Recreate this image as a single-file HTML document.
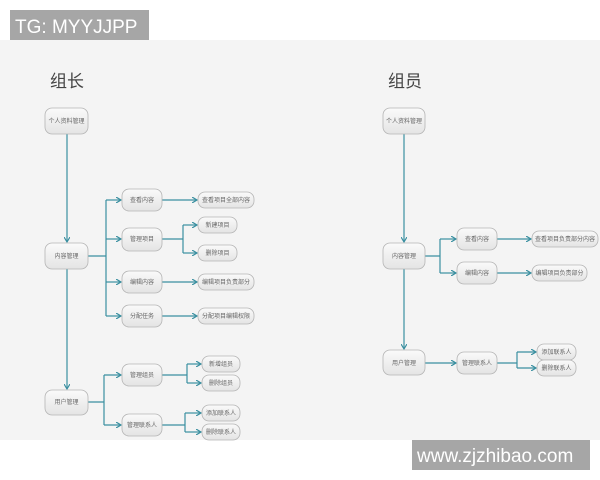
<!DOCTYPE html>
<html><head><meta charset="utf-8"><style>
html,body{margin:0;padding:0;width:600px;height:480px;overflow:hidden;background:#fff;}
svg{display:block}
text{font-family:"Liberation Sans","Noto Sans CJK SC",sans-serif;}
</style></head><body>
<svg width="600" height="480" viewBox="0 0 600 480" xmlns="http://www.w3.org/2000/svg">
<defs>
<linearGradient id="g" x1="0" y1="0" x2="0" y2="1"><stop offset="0" stop-color="#fafafa"/><stop offset="1" stop-color="#e4e4e4"/></linearGradient>
<marker id="a" markerWidth="6" markerHeight="6" refX="5" refY="3" orient="auto" markerUnits="userSpaceOnUse"><path d="M0,0 L5,3 L0,6" fill="none" stroke="#3a8fa0" stroke-width="1.2"/></marker>
</defs>
<rect x="0" y="40" width="600" height="400" fill="#f4f4f4"/>
<rect x="10" y="10" width="139" height="30" fill="#a6a6a6"/>
<text x="15" y="33" font-size="19" fill="#fff">TG: MYYJJPP</text>
<rect x="412" y="440" width="178" height="30" fill="#a6a6a6"/>
<text x="417" y="462" font-size="19" fill="#fff">www.zjzhibao.com</text>
<text x="50" y="87" font-size="17" fill="#444">组长</text>
<text x="388" y="87" font-size="17" fill="#444">组员</text>
<g fill="none" stroke="#3a8fa0" stroke-width="1.2">
<!-- left -->
<path d="M67,134 V242" marker-end="url(#a)"/>
<path d="M67,269 V389" marker-end="url(#a)"/>
<path d="M88,256 H106 M106,200 V316"/>
<path d="M106,200 H121" marker-end="url(#a)"/>
<path d="M106,239 H121" marker-end="url(#a)"/>
<path d="M106,282 H121" marker-end="url(#a)"/>
<path d="M106,316 H121" marker-end="url(#a)"/>
<path d="M162,200 H197" marker-end="url(#a)"/>
<path d="M162,239 H183 M183,225 V253"/>
<path d="M183,225 H197" marker-end="url(#a)"/>
<path d="M183,253 H197" marker-end="url(#a)"/>
<path d="M162,282 H197" marker-end="url(#a)"/>
<path d="M162,316 H197" marker-end="url(#a)"/>
<path d="M88,402 H104 M104,375 V425"/>
<path d="M104,375 H121" marker-end="url(#a)"/>
<path d="M104,425 H121" marker-end="url(#a)"/>
<path d="M162,375 H187 M187,364 V383"/>
<path d="M187,364 H201" marker-end="url(#a)"/>
<path d="M187,383 H201" marker-end="url(#a)"/>
<path d="M162,425 H185 M185,413 V432"/>
<path d="M185,413 H201" marker-end="url(#a)"/>
<path d="M185,432 H201" marker-end="url(#a)"/>
<!-- right -->
<path d="M404,134 V242" marker-end="url(#a)"/>
<path d="M404,269 V349" marker-end="url(#a)"/>
<path d="M425,256 H440 M440,239 V273"/>
<path d="M440,239 H456" marker-end="url(#a)"/>
<path d="M440,273 H456" marker-end="url(#a)"/>
<path d="M497,239 H531" marker-end="url(#a)"/>
<path d="M497,273 H531" marker-end="url(#a)"/>
<path d="M425,363 H456" marker-end="url(#a)"/>
<path d="M497,363 H517 M517,352 V368"/>
<path d="M517,352 H536" marker-end="url(#a)"/>
<path d="M517,368 H536" marker-end="url(#a)"/>
</g>
<g stroke="#b5b5b5" stroke-width="0.8" fill="url(#g)">
<rect x="45" y="108" width="43" height="26" rx="7"/>
<rect x="45" y="243" width="43" height="26" rx="7"/>
<rect x="45" y="390" width="43" height="25" rx="7"/>
<rect x="122" y="189" width="40" height="22" rx="7"/>
<rect x="122" y="228" width="40" height="23" rx="7"/>
<rect x="122" y="271" width="40" height="22" rx="7"/>
<rect x="122" y="305" width="40" height="22" rx="7"/>
<rect x="198" y="192" width="56" height="16" rx="7"/>
<rect x="198" y="217" width="39" height="16" rx="7"/>
<rect x="198" y="245" width="39" height="16" rx="7"/>
<rect x="198" y="274" width="56" height="16" rx="7"/>
<rect x="198" y="308" width="56" height="16" rx="7"/>
<rect x="122" y="364" width="40" height="22" rx="7"/>
<rect x="122" y="414" width="40" height="22" rx="7"/>
<rect x="202" y="356" width="38" height="16" rx="7"/>
<rect x="202" y="375" width="38" height="16" rx="7"/>
<rect x="202" y="405" width="38" height="16" rx="7"/>
<rect x="202" y="424" width="38" height="16" rx="7"/>
<rect x="383" y="108" width="42" height="26" rx="7"/>
<rect x="383" y="243" width="42" height="26" rx="7"/>
<rect x="383" y="350" width="42" height="25" rx="7"/>
<rect x="457" y="228" width="40" height="22" rx="7"/>
<rect x="457" y="262" width="40" height="22" rx="7"/>
<rect x="532" y="231" width="66" height="16" rx="7"/>
<rect x="532" y="265" width="55" height="16" rx="7"/>
<rect x="457" y="352" width="40" height="22" rx="7"/>
<rect x="537" y="344" width="39" height="16" rx="7"/>
<rect x="537" y="360" width="39" height="16" rx="7"/>
</g>
<g font-size="6" fill="#666" text-anchor="middle">
<text x="66.5" y="123">个人资料管理</text>
<text x="66.5" y="258">内容管理</text>
<text x="66.5" y="404">用户管理</text>
<text x="142" y="202">查看内容</text>
<text x="142" y="241">管理项目</text>
<text x="142" y="284">编辑内容</text>
<text x="142" y="318">分配任务</text>
<text x="226" y="202">查看项目全部内容</text>
<text x="217.5" y="227">新建项目</text>
<text x="217.5" y="255">删除项目</text>
<text x="226" y="284">编辑项目负责部分</text>
<text x="226" y="318">分配项目编辑权限</text>
<text x="142" y="377">管理组员</text>
<text x="142" y="427">管理联系人</text>
<text x="221" y="366">新增组员</text>
<text x="221" y="385">删除组员</text>
<text x="221" y="415">添加联系人</text>
<text x="221" y="434">删除联系人</text>
<text x="404" y="123">个人资料管理</text>
<text x="404" y="258">内容管理</text>
<text x="404" y="365">用户管理</text>
<text x="477" y="241">查看内容</text>
<text x="477" y="275">编辑内容</text>
<text x="565" y="241">查看项目负责部分内容</text>
<text x="559.5" y="275">编辑项目负责部分</text>
<text x="477" y="365">管理联系人</text>
<text x="556.5" y="354">添加联系人</text>
<text x="556.5" y="370">删除联系人</text>
</g>
</svg>
</body></html>
